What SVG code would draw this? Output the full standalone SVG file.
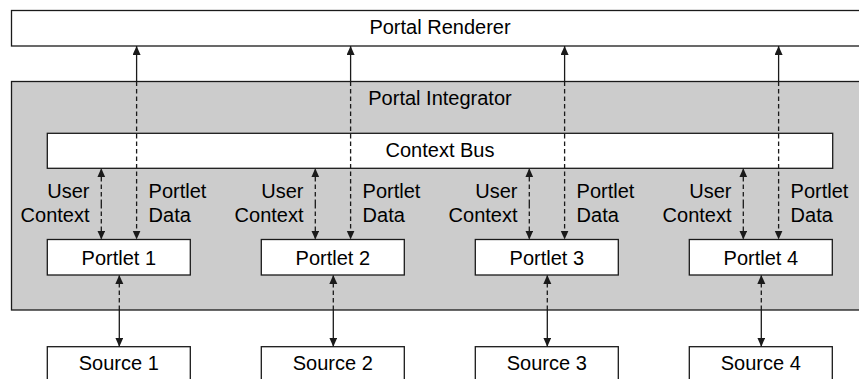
<svg xmlns="http://www.w3.org/2000/svg" width="859" height="379" viewBox="0 0 859 379">
<style>
.box{fill:#ffffff;stroke:#1a1a1a;stroke-width:1.3}
.gray{fill:#cccccc;stroke:#1a1a1a;stroke-width:1.3}
text{font-family:"Liberation Sans",Arial,sans-serif;font-size:20px;fill:#000}
.c{text-anchor:middle}
.r{text-anchor:end}
.solid{stroke:#1a1a1a;stroke-width:1.3;fill:none}
.dash{stroke:#1a1a1a;stroke-width:1.3;fill:none;stroke-dasharray:4.5,3}
</style>
<defs>
<marker id="ah" markerUnits="userSpaceOnUse" markerWidth="10" markerHeight="9" refX="9" refY="4" orient="auto">
<path d="M0,0 L9,4 L0,8 z" fill="#1a1a1a"/>
</marker>
</defs>
<g id="portal-renderer">
<rect class="box" x="11.5" y="10.5" width="860" height="35.5"/>
<text class="c" x="440" y="34">Portal Renderer</text>
</g>
<g id="portal-integrator">
<rect class="gray" x="11.5" y="81.5" width="860" height="228.5"/>
<text class="c" x="440" y="104.5">Portal Integrator</text>
</g>
<g id="context-bus">
<rect class="box" x="47.3" y="133.3" width="785.4" height="35"/>
<text class="c" x="440" y="157">Context Bus</text>
</g>
<g id="portlet-1"><rect class="box" x="47.3" y="239.5" width="143" height="35.5"/><text class="c" x="118.8" y="264.5">Portlet 1</text></g>
<g id="portlet-2"><rect class="box" x="261.3" y="239.5" width="143" height="35.5"/><text class="c" x="332.8" y="264.5">Portlet 2</text></g>
<g id="portlet-3"><rect class="box" x="475.3" y="239.5" width="143" height="35.5"/><text class="c" x="546.8" y="264.5">Portlet 3</text></g>
<g id="portlet-4"><rect class="box" x="689.3" y="239.5" width="143" height="35.5"/><text class="c" x="760.8" y="264.5">Portlet 4</text></g>
<g id="source-1"><rect class="box" x="47.3" y="346.7" width="143" height="45"/><text class="c" x="118.8" y="370">Source 1</text></g>
<g id="source-2"><rect class="box" x="261.3" y="346.7" width="143" height="45"/><text class="c" x="332.8" y="370">Source 2</text></g>
<g id="source-3"><rect class="box" x="475.3" y="346.7" width="143" height="45"/><text class="c" x="546.8" y="370">Source 3</text></g>
<g id="source-4"><rect class="box" x="689.3" y="346.7" width="143" height="45"/><text class="c" x="760.8" y="370">Source 4</text></g>
<g id="connectors">
<!-- Portlet 1 -->
<line class="dash" x1="101.3" y1="204" x2="101.3" y2="168.3" marker-end="url(#ah)"/>
<line class="dash" x1="101.3" y1="204" x2="101.3" y2="239.5" marker-end="url(#ah)"/>
<line class="solid" x1="136.6" y1="81.5" x2="136.6" y2="46" marker-end="url(#ah)"/>
<line class="dash" x1="136.6" y1="81.5" x2="136.6" y2="239.5" marker-end="url(#ah)"/>
<line class="dash" x1="119.3" y1="310" x2="119.3" y2="275" marker-end="url(#ah)"/>
<line class="solid" x1="119.3" y1="310" x2="119.3" y2="346.7" marker-end="url(#ah)"/>
<!-- Portlet 2 -->
<line class="dash" x1="315.3" y1="204" x2="315.3" y2="168.3" marker-end="url(#ah)"/>
<line class="dash" x1="315.3" y1="204" x2="315.3" y2="239.5" marker-end="url(#ah)"/>
<line class="solid" x1="350.6" y1="81.5" x2="350.6" y2="46" marker-end="url(#ah)"/>
<line class="dash" x1="350.6" y1="81.5" x2="350.6" y2="239.5" marker-end="url(#ah)"/>
<line class="dash" x1="333.3" y1="310" x2="333.3" y2="275" marker-end="url(#ah)"/>
<line class="solid" x1="333.3" y1="310" x2="333.3" y2="346.7" marker-end="url(#ah)"/>
<!-- Portlet 3 -->
<line class="dash" x1="529.3" y1="204" x2="529.3" y2="168.3" marker-end="url(#ah)"/>
<line class="dash" x1="529.3" y1="204" x2="529.3" y2="239.5" marker-end="url(#ah)"/>
<line class="solid" x1="564.6" y1="81.5" x2="564.6" y2="46" marker-end="url(#ah)"/>
<line class="dash" x1="564.6" y1="81.5" x2="564.6" y2="239.5" marker-end="url(#ah)"/>
<line class="dash" x1="547.3" y1="310" x2="547.3" y2="275" marker-end="url(#ah)"/>
<line class="solid" x1="547.3" y1="310" x2="547.3" y2="346.7" marker-end="url(#ah)"/>
<!-- Portlet 4 -->
<line class="dash" x1="743.3" y1="204" x2="743.3" y2="168.3" marker-end="url(#ah)"/>
<line class="dash" x1="743.3" y1="204" x2="743.3" y2="239.5" marker-end="url(#ah)"/>
<line class="solid" x1="778.6" y1="81.5" x2="778.6" y2="46" marker-end="url(#ah)"/>
<line class="dash" x1="778.6" y1="81.5" x2="778.6" y2="239.5" marker-end="url(#ah)"/>
<line class="dash" x1="761.3" y1="310" x2="761.3" y2="275" marker-end="url(#ah)"/>
<line class="solid" x1="761.3" y1="310" x2="761.3" y2="346.7" marker-end="url(#ah)"/>
</g>
<g id="labels">
<text class="r" x="89.5" y="198">User</text><text class="r" x="89.5" y="221.5">Context</text>
<text x="148.6" y="198">Portlet</text><text x="148.6" y="221.5">Data</text>
<text class="r" x="303.5" y="198">User</text><text class="r" x="303.5" y="221.5">Context</text>
<text x="362.6" y="198">Portlet</text><text x="362.6" y="221.5">Data</text>
<text class="r" x="517.5" y="198">User</text><text class="r" x="517.5" y="221.5">Context</text>
<text x="576.6" y="198">Portlet</text><text x="576.6" y="221.5">Data</text>
<text class="r" x="731.5" y="198">User</text><text class="r" x="731.5" y="221.5">Context</text>
<text x="790.6" y="198">Portlet</text><text x="790.6" y="221.5">Data</text>
</g>
</svg>
